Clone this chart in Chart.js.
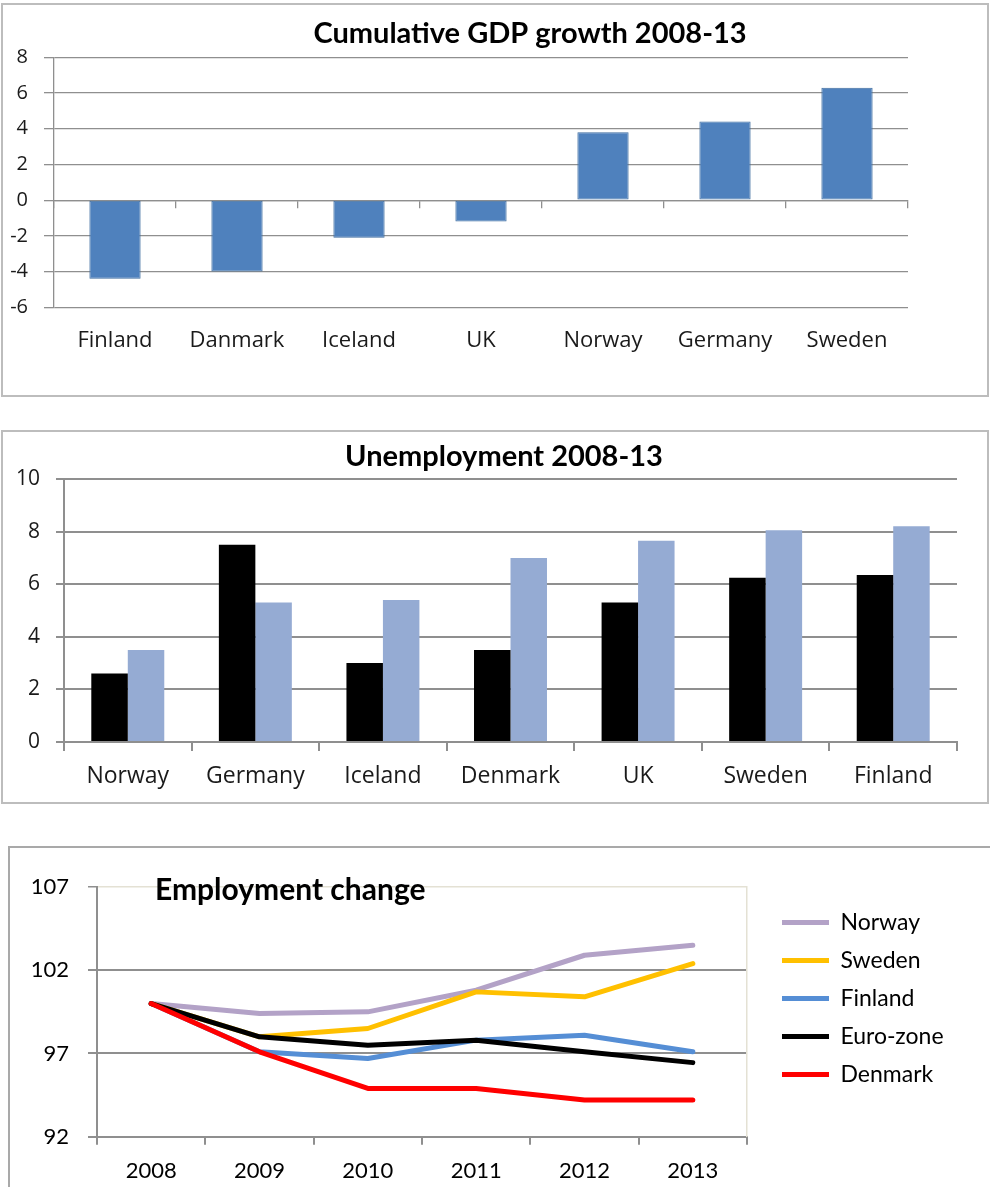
<!DOCTYPE html>
<html>
<head>
<meta charset="utf-8">
<script src="https://cdn.jsdelivr.net/npm/chart.js@4.4.1/dist/chart.umd.min.js"></script>
<style>
  html, body { margin: 0; padding: 0; background: #fff; overflow: hidden; }
  body { width: 990px; height: 1187px; position: relative; }
  .frame { position: absolute; box-sizing: border-box; border: 2px solid #bdbdbd; }
  .wrap { position: absolute; }
  canvas { display: block; }
</style>
</head>
<body>
<div class="frame" style="left:1px;top:3px;width:988px;height:394px"></div>
<div class="frame" style="left:1px;top:430px;width:988px;height:374px"></div>
<div class="frame" style="left:8px;top:846px;width:1000px;height:400px;border-color:#a9a9a9"></div>

<div class="wrap" style="left:0;top:0"><canvas id="gdp" width="990" height="400"></canvas></div>
<div class="wrap" style="left:0;top:425px"><canvas id="unemp" width="990" height="385"></canvas></div>
<div class="wrap" style="left:10px;top:850px"><canvas id="emp" width="980" height="337"></canvas></div>

<script>
// Cumulative GDP growth 2008-13 (%)
const gdpCountries = ['Finland', 'Danmark', 'Iceland', 'UK', 'Norway', 'Germany', 'Sweden'];
const gdpGrowth = [-4.4, -4.0, -2.1, -1.2, 3.8, 4.4, 6.3];

// Unemployment rate (%), 2008 and 2013
const unempCountries = ['Norway', 'Germany', 'Iceland', 'Denmark', 'UK', 'Sweden', 'Finland'];
const unemp2008 = [2.6, 7.5, 3.0, 3.5, 5.3, 6.25, 6.35];
const unemp2013 = [3.5, 5.3, 5.4, 7.0, 7.65, 8.05, 8.2];

// Employment index, 2008 = 100
const years = ['2008', '2009', '2010', '2011', '2012', '2013'];
const empNorway = [100, 99.4, 99.5, 100.8, 102.9, 103.5];
const empSweden = [100, 98.0, 98.5, 100.7, 100.4, 102.4];
const empFinland = [100, 97.1, 96.7, 97.8, 98.1, 97.1];
const empEuro = [100, 98.0, 97.5, 97.8, 97.1, 96.45];
const empDenmark = [100, 97.1, 94.9, 94.9, 94.2, 94.2];

const GRID = '#8f8f8f';

// Draws a heading at a position relative to the chart area.
const areaTitle = {
  id: 'areaTitle',
  afterDraw(chart, args, opts) {
    if (!opts || !opts.text) return;
    const { ctx, chartArea } = chart;
    ctx.save();
    ctx.font = opts.font;
    ctx.fillStyle = opts.color || '#000';
    ctx.textAlign = opts.align || 'center';
    ctx.textBaseline = 'alphabetic';
    ctx.fillText(opts.text, chartArea.left + opts.dx, chartArea.top + opts.dy);
    ctx.restore();
  }
};

function draw() {
  Chart.defaults.animation = false;
  Chart.defaults.responsive = false;
  Chart.defaults.plugins.legend.display = false;
  Chart.defaults.plugins.tooltip.enabled = false;

  // ---- GDP growth ----
  new Chart(document.getElementById('gdp'), {
    type: 'bar',
    data: {
      labels: gdpCountries,
      datasets: [{
        label: 'GDP growth',
        data: gdpGrowth,
        backgroundColor: '#4f81bd',
        borderColor: '#3e6c9f',
        borderWidth: 1,
        borderSkipped: false,
        categoryPercentage: 1,
        barPercentage: 0.42
      }]
    },
    plugins: [areaTitle],
    options: {
      layout: { padding: { top: 57.3, right: 82, left: 0, bottom: 0 } },
      plugins: {
        areaTitle: { text: 'Cumulative GDP growth 2008-13', font: 'bold 29px Lato', dx: 476, dy: -14.5 }
      },
      scales: {
        x: {
          offset: true,
          grid: { display: false, drawTicks: false },
          border: { display: false },
          ticks: { font: { family: 'Open Sans', size: 22 }, color: '#1a1a1a', padding: 20, maxRotation: 0 },
          afterFit: s => { s.height = 92.7; }
        },
        x0: {
          type: 'category',
          position: { y: 0 },
          offset: true,
          grid: { display: true, drawOnChartArea: false, drawTicks: true, tickLength: 7, offset: true, color: GRID, lineWidth: 1.3 },
          border: { display: true, color: GRID, width: 1.3 },
          ticks: { display: false },
          afterFit: s => { s.height = 0; }
        },
        y: {
          min: -6, max: 8,
          ticks: { stepSize: 2, padding: 16, font: { family: 'Open Sans', size: 20 }, color: '#1a1a1a' },
          grid: { color: GRID, lineWidth: 1.3, drawTicks: true, tickLength: 10 },
          border: { color: GRID, width: 1.3 },
          afterFit: s => { s.width = 54; }
        }
      }
    }
  });

  // ---- Unemployment ----
  new Chart(document.getElementById('unemp'), {
    type: 'bar',
    data: {
      labels: unempCountries,
      datasets: [
        { label: '2008', data: unemp2008, backgroundColor: '#000000', categoryPercentage: 0.572, barPercentage: 1 },
        { label: '2013', data: unemp2013, backgroundColor: '#95abd3', categoryPercentage: 0.572, barPercentage: 1 }
      ]
    },
    plugins: [areaTitle],
    options: {
      layout: { padding: { top: 54, right: 33, left: 0, bottom: 0 } },
      plugins: {
        areaTitle: { text: 'Unemployment 2008-13', font: 'bold 29px Lato', dx: 440, dy: -13 }
      },
      scales: {
        x: {
          offset: true,
          grid: { display: true, drawOnChartArea: false, drawTicks: true, tickLength: 9, offset: true, color: GRID, lineWidth: 2 },
          border: { color: GRID, width: 2 },
          ticks: { font: { family: 'Open Sans', size: 23 }, color: '#1a1a1a', padding: 12, maxRotation: 0 },
          afterFit: s => { s.height = 68; }
        },
        y: {
          min: 0, max: 10,
          ticks: { stepSize: 2, padding: 16, font: { family: 'Open Sans', size: 21 }, color: '#1a1a1a' },
          grid: { color: GRID, lineWidth: 2, drawTicks: true, tickLength: 8 },
          border: { color: GRID, width: 2 },
          afterFit: s => { s.width = 64; }
        }
      }
    }
  });

  // ---- Employment change ----
  const line = (label, data, color, order) => ({
    label, data, order,
    borderColor: color,
    backgroundColor: color,
    borderWidth: 5,
    borderCapStyle: 'round',
    borderJoinStyle: 'round',
    pointRadius: 0,
    tension: 0,
    fill: false
  });

  const empSeries = [
    line('Norway', empNorway, '#b3a2c7', 5),
    line('Sweden', empSweden, '#ffc000', 4),
    line('Finland', empFinland, '#558ed5', 3),
    line('Euro-zone', empEuro, '#000000', 2),
    line('Denmark', empDenmark, '#ff0000', 1)
  ];

  // Legend geometry: keep the plot's right edge fixed whatever the label widths are.
  // (A vertical legend adds 10px to its fitted width.)
  const legendFont = { family: 'Lato', size: 23 };
  const legendPad = 15, sampleWidth = 47, axisGap = 20, canvasW = 980, plotRight = 737;
  const measure = document.createElement('canvas').getContext('2d');
  measure.font = `${legendFont.size}px ${legendFont.family}`;
  const widest = Math.max(...empSeries.map(d => measure.measureText(d.label).width));
  const legendW = legendPad + sampleWidth + legendFont.size / 2 + widest + 10;
  const rightPad = canvasW - plotRight - axisGap - legendW;

  new Chart(document.getElementById('emp'), {
    type: 'line',
    data: { labels: years, datasets: empSeries },
    plugins: [areaTitle],
    options: {
      layout: { padding: { top: 37, right: rightPad, left: 0, bottom: 0 } },
      plugins: {
        areaTitle: { text: 'Employment change', font: 'bold 30px Lato', align: 'left', dx: 58, dy: 13 },
        legend: {
          display: true,
          position: 'right',
          align: 'start',
          maxWidth: 400,
          title: { display: true, text: '', padding: 0, font: { size: 9, lineHeight: 1 } },
          labels: {
            usePointStyle: true,
            pointStyle: 'line',
            pointStyleWidth: sampleWidth,
            padding: legendPad,
            color: '#000',
            font: legendFont,
            sort: (a, b) => a.datasetIndex - b.datasetIndex
          }
        }
      },
      scales: {
        x: {
          offset: true,
          grid: { display: true, drawOnChartArea: false, drawTicks: true, tickLength: 8, offset: true, color: GRID, lineWidth: 2 },
          border: { color: GRID, width: 2 },
          ticks: { font: { family: 'Lato', size: 22 }, color: '#000', padding: 13, maxRotation: 0 },
          afterFit: s => { s.height = 50.3; }
        },
        y: {
          min: 92, max: 107,
          ticks: { stepSize: 5, padding: 19, font: { family: 'Lato', size: 22 }, color: '#000' },
          grid: {
            color: c => (c.tick && c.tick.value === 107 ? '#e4e1d4' : GRID),
            tickColor: GRID,
            lineWidth: c => (c.tick && c.tick.value === 107 ? 1.5 : 2),
            drawTicks: true,
            tickLength: 9
          },
          border: { color: GRID, width: 2 },
          afterFit: s => { s.width = 87; }
        },
        y2: {
          position: 'right',
          grid: { display: false, drawTicks: false },
          ticks: { display: false },
          border: { display: true, color: '#e4e1d4', width: 1.5 },
          afterFit: s => { s.width = axisGap; }
        }
      }
    }
  });
}

const fontLoads = [
  'bold 29px Lato', '22px Lato', '22px "Open Sans"'
].map(f => document.fonts.load(f).catch(() => null));
Promise.all(fontLoads).then(draw, draw);
</script>
</body>
</html>
